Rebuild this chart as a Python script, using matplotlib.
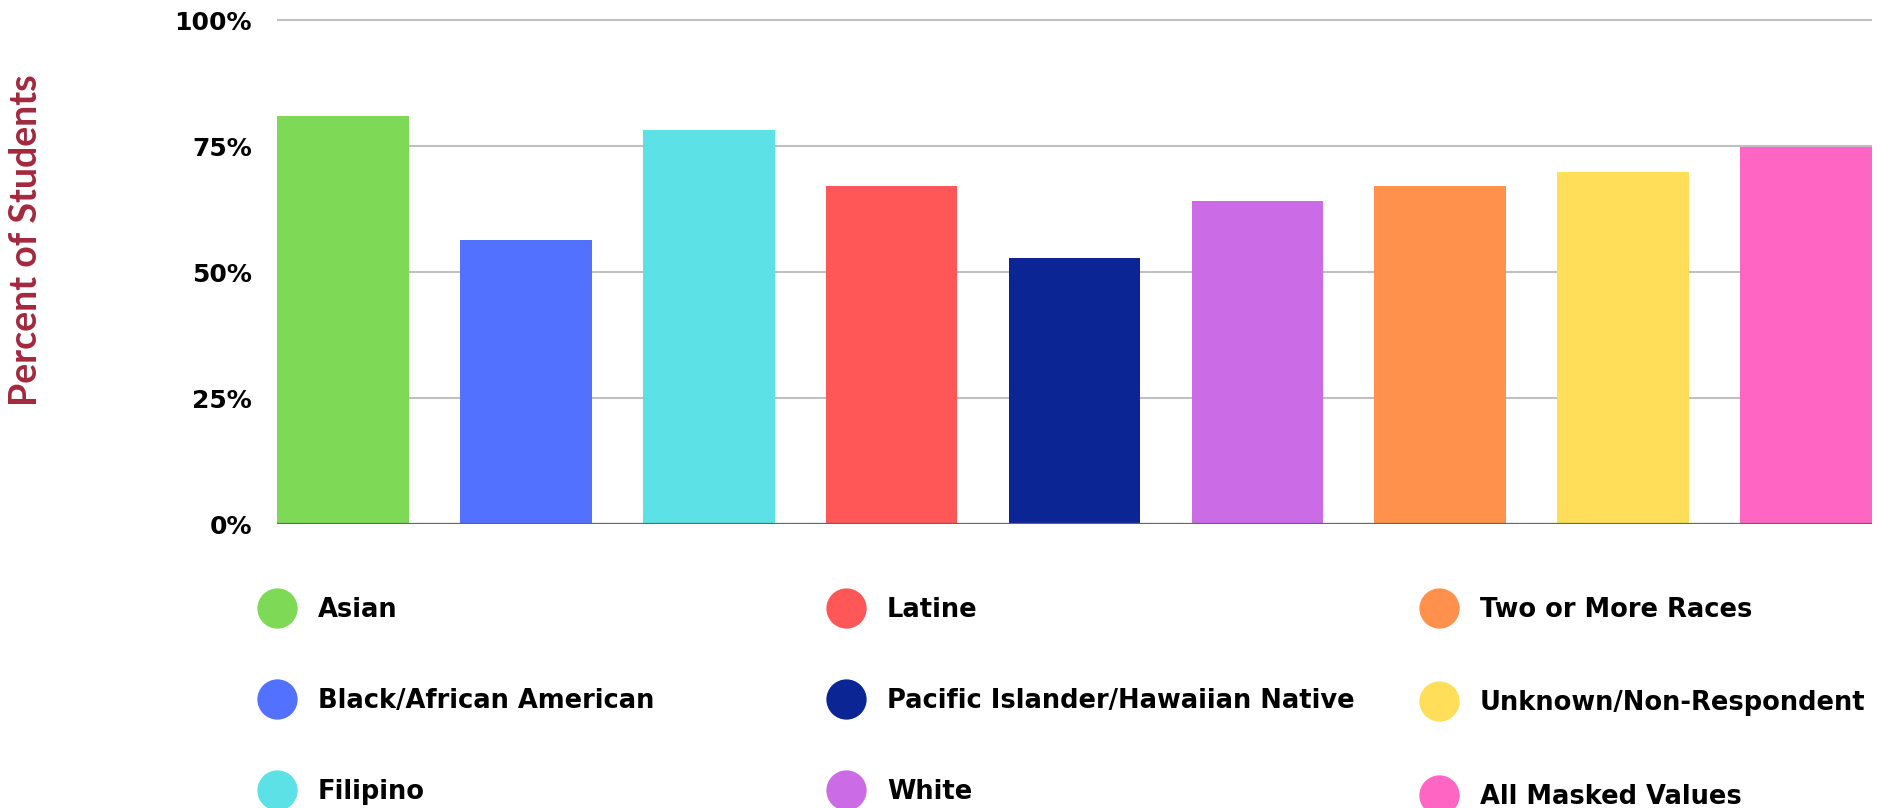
import matplotlib
matplotlib.use("Agg")
import matplotlib.pyplot as plt
from matplotlib.lines import Line2D

groups = ["Asian", "Black/African American", "Filipino", "Latine",
          "Pacific Islander/Hawaiian Native", "White", "Two or More Races",
          "Unknown/Non-Respondent", "All Masked Values"]
percent = [81.1, 56.4, 78.3, 67.1, 52.8, 64.1, 67.1, 69.9, 74.8]
colors = ["#7ED957", "#5271FF", "#5CE1E6", "#FF5757", "#0C2594",
          "#CB6CE6", "#FF914D", "#FFDE59", "#FF66C4"]
yticks = [0, 25, 50, 75, 100]
ytick_labels = ["0%", "25%", "50%", "75%", "100%"]

W, H = 1880, 808
fig = plt.figure(figsize=(W / 100, H / 100), dpi=100)

# axes box in pixel terms: 0% at y=524, 100% at y=20.4
y0, y100 = 524, 20.4
ytop = y0 - 101 / 100 * (y0 - y100)
ax = fig.add_axes([277 / W, 1 - y0 / H, (1872 - 277) / W, (y0 - ytop) / H])

bar_w = 0.72
x = range(len(groups))
ax.bar(x, percent, width=bar_w, color=colors, zorder=2)
ax.set_xlim(-bar_w / 2, len(groups) - 1 + bar_w / 2)
ax.set_ylim(0, 101)

ax.set_yticks(yticks)
ax.set_yticklabels(ytick_labels, fontsize=18, fontweight="bold", family="DejaVu Sans")
ax.set_xticks([])
ax.tick_params(axis="y", length=0, pad=18)
for s in ax.spines.values():
    s.set_visible(False)
ax.set_axisbelow(True)
ax.yaxis.grid(True, color="#c0c0c0", linewidth=1.5)
ax.axhline(0, color="#666666", linewidth=1.6, zorder=3)

fig.text(26 / W, 1 - 240 / H, "Percent of Students", rotation=90,
         ha="center", va="center", fontsize=27, fontweight="bold",
         family="Lato", color="#a3283e")

# legend: three columns, column-major like the original
col_left = [257, 826, 1419]
col_spacing = [2.53, 2.53, 2.62]
for c in range(3):
    handles = []
    for i in range(c * 3, c * 3 + 3):
        handles.append(Line2D([], [], linestyle="none", marker="o",
                              markersize=29, markeredgewidth=0,
                              color=colors[i], label=groups[i]))
    fig.legend(handles=handles, loc="upper left",
               bbox_to_anchor=(col_left[c] / W, 1 - 597 / H),
               frameon=False, borderpad=0, borderaxespad=0,
               handlelength=1.55, handletextpad=0.82,
               labelspacing=col_spacing[c],
               prop={"family": "DejaVu Sans", "weight": "bold", "size": 18.5})

fig.savefig("out.png", dpi=100, facecolor="white")
